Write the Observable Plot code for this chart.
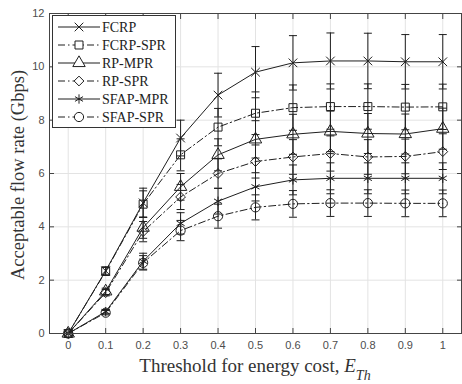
<!DOCTYPE html>
<html><head><meta charset="utf-8">
<script src="https://cdn.jsdelivr.net/npm/d3@7"></script>
<script src="https://cdn.jsdelivr.net/npm/@observablehq/plot@0.6"></script>
<style>body{margin:0;background:#fff}</style>
</head><body><div id="chart"></div>
<script>
const thresholds = [0, 0.1, 0.2, 0.3, 0.4, 0.5, 0.6, 0.7, 0.8, 0.9, 1];
const seriesNames = ["FCRP", "FCRP-SPR", "RP-MPR", "RP-SPR", "SFAP-MPR", "SFAP-SPR"];
const fcrp    = [0, 2.35, 4.9, 7.33, 8.94, 9.8, 10.15, 10.22, 10.22, 10.19, 10.19];
const fcrpSpr = [0, 2.33, 4.85, 6.7, 7.74, 8.26, 8.47, 8.51, 8.51, 8.49, 8.5];
const rpMpr   = [0, 1.58, 3.97, 5.5, 6.7, 7.28, 7.47, 7.58, 7.5, 7.48, 7.68];
const rpSpr   = [0, 1.53, 3.82, 5.12, 6.0, 6.45, 6.62, 6.75, 6.62, 6.64, 6.82];
const sfapMpr = [0, 0.82, 2.71, 4.13, 4.96, 5.5, 5.76, 5.82, 5.82, 5.82, 5.82];
const sfapSpr = [0, 0.78, 2.65, 3.86, 4.4, 4.73, 4.86, 4.89, 4.89, 4.88, 4.88];
const fcrpErr    = [0, 0.15, 0.55, 0.67, 0.82, 0.96, 1.02, 1.05, 1.04, 1.02, 1.02];
const fcrpSprErr = [0, 0.15, 0.5, 0.6, 0.7, 0.8, 0.85, 0.85, 0.85, 0.85, 0.85];
const rpMprErr   = [0, 0.12, 0.4, 0.5, 0.6, 0.7, 0.75, 0.76, 0.75, 0.75, 0.77];
const rpSprErr   = [0, 0.12, 0.38, 0.47, 0.55, 0.62, 0.65, 0.66, 0.65, 0.65, 0.67];
const sfapMprErr = [0, 0.08, 0.3, 0.4, 0.48, 0.53, 0.56, 0.58, 0.58, 0.58, 0.58];
const sfapSprErr = [0, 0.08, 0.27, 0.38, 0.45, 0.47, 0.5, 0.5, 0.5, 0.5, 0.5];
const symbols = ["times", "square", "triangle", "diamond2", "asterisk", "circle"];
const dashed = [false, true, false, true, false, true];
const xTicks = [0, 0.1, 0.2, 0.3, 0.4, 0.5, 0.6, 0.7, 0.8, 0.9, 1];
const yTicks = [0, 2, 4, 6, 8, 10, 12];

const values = [fcrp, fcrpSpr, rpMpr, rpSpr, sfapMpr, sfapSpr];
const errs = [fcrpErr, fcrpSprErr, rpMprErr, rpSprErr, sfapMprErr, sfapSprErr];
const INK = "#1f1f1f";
const DASH = "7,3,1.5,3";
const capSymbol = {draw(ctx, size) { const w = Math.sqrt(size / Math.PI); ctx.moveTo(-w, 0); ctx.lineTo(w, 0); }};
const symR = {times: 4, square: 4.5, triangle: 4.6, diamond2: 4.4, asterisk: 4.4, circle: 4.6};

const marks = [
  Plot.gridX(xTicks, {stroke: "#e3e3e3", strokeOpacity: 1}),
  Plot.gridY(yTicks, {stroke: "#e3e3e3", strokeOpacity: 1}),
];
seriesNames.forEach((name, i) => {
  const rows = thresholds.map((t, j) => ({series: name, x: t, y: values[i][j], err: errs[i][j]}));
  const er = rows.filter(d => d.err > 0);
  marks.push(
    Plot.ruleX(er, {x: "x", y1: d => d.y - d.err, y2: d => d.y + d.err, stroke: INK, strokeWidth: 1}),
    Plot.dot(er, {x: "x", y: d => d.y + d.err, symbol: capSymbol, r: 4, stroke: INK, strokeWidth: 1}),
    Plot.dot(er, {x: "x", y: d => d.y - d.err, symbol: capSymbol, r: 4, stroke: INK, strokeWidth: 1}),
    Plot.line(rows, {x: "x", y: "y", stroke: INK, strokeWidth: 1, strokeDasharray: dashed[i] ? DASH : null}),
    Plot.dot(rows, {x: "x", y: "y", symbol: symbols[i], r: symR[symbols[i]], stroke: INK, strokeWidth: 1, fill: "none"})
  );
});
marks.push(
  Plot.axisX({ticks: xTicks, tickSize: 0, tickPadding: 8, tickFormat: d => String(+d.toFixed(1)), label: null, fill: "#4d4d4d"}),
  Plot.axisY({ticks: yTicks, tickSize: 0, tickPadding: 5, label: null, fill: "#4d4d4d"}),
  Plot.axisX({ticks: xTicks, anchor: "bottom", tickSize: -5, tickFormat: () => "", label: null, stroke: "#444"}),
  Plot.axisX({ticks: xTicks, anchor: "top", tickSize: -5, tickFormat: () => "", label: null, stroke: "#444"}),
  Plot.axisY({ticks: yTicks, anchor: "left", tickSize: -5, tickFormat: () => "", label: null, stroke: "#444"}),
  Plot.axisY({ticks: yTicks, anchor: "right", tickSize: -5, tickFormat: () => "", label: null, stroke: "#444"}),
  Plot.frame({stroke: "#444"})
);

const chart = Plot.plot({
  width: 462, height: 384,
  marginLeft: 49, marginRight: 1, marginTop: 13, marginBottom: 51,
  style: {fontFamily: "'Liberation Sans', Arial, sans-serif", fontSize: "11px", background: "#fff"},
  x: {domain: [-0.05, 1.05]},
  y: {domain: [0, 12]},
  marks
});
document.getElementById("chart").appendChild(chart);

const svg = d3.select(chart);
const serif = "'Liberation Serif', 'DejaVu Serif', serif";
// y label
svg.append("text")
  .attr("transform", "translate(24,175) rotate(-90)")
  .style("text-anchor", "middle")
  .style("font-family", serif).style("font-size", "18.5px").attr("fill", "#333")
  .text("Acceptable flow rate (Gbps)");
// x label
const xl = svg.append("text")
  .attr("x", 255).attr("y", 372)
  .style("text-anchor", "middle")
  .style("font-family", serif).style("font-size", "19px").attr("fill", "#333");
xl.append("tspan").text("Threshold for energy cost, ");
xl.append("tspan").style("font-style", "italic").text("E");
xl.append("tspan").style("font-style", "italic").style("font-size", "14px").attr("dy", 8).text("Th");

// legend
const lg = svg.append("g");
lg.append("rect").attr("x", 52.5).attr("y", 15.5).attr("width", 123).attr("height", 112)
  .attr("fill", "#fff").attr("stroke", "#333").attr("stroke-width", 1);
const d3sym = {times: d3.symbolTimes, square: d3.symbolSquare, triangle: d3.symbolTriangle, diamond2: d3.symbolDiamond2, asterisk: d3.symbolAsterisk, circle: d3.symbolCircle};
seriesNames.forEach((name, i) => {
  const y = 27 + i * 18;
  lg.append("line").attr("x1", 58).attr("x2", 100).attr("y1", y).attr("y2", y)
    .attr("stroke", INK).attr("stroke-width", 1).attr("stroke-dasharray", dashed[i] ? DASH : null);
  const r = symR[symbols[i]];
  lg.append("path").attr("transform", `translate(79,${y})`)
    .attr("d", d3.symbol(d3sym[symbols[i]], Math.PI * r * r)())
    .attr("fill", "#fff").attr("stroke", INK).attr("stroke-width", 1);
  lg.append("text").attr("x", 102).attr("y", y + 5)
    .style("text-anchor", "start")
    .style("font-family", serif).style("font-size", "14px").attr("fill", "#222").text(name);
});
</script>
</body></html>
